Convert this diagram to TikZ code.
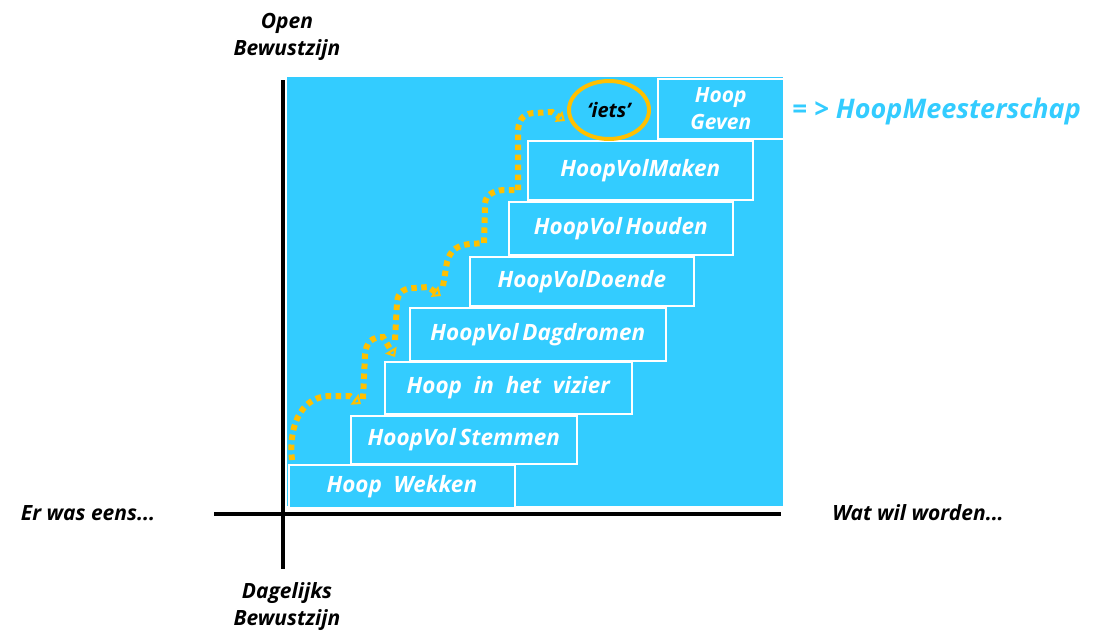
\documentclass[tikz,border=0pt]{standalone}
\usepackage{fontspec}
\setmainfont{Open Sans}
\usetikzlibrary{arrows.meta,shapes.geometric}
\definecolor{skyb}{HTML}{33CCFF}
\definecolor{gold}{HTML}{FFC000}
\tikzset{
  stepbox/.style={draw=white, line width=1.6pt, fill=skyb, text=white, anchor=north west,
    font=\fontsize{22.5}{26}\selectfont\bfseries\itshape, inner sep=0pt},
  axislab/.style={text=black, font=\fontsize{21}{27}\selectfont\bfseries\itshape, align=center, inner sep=0pt},
  axisline/.style={line width=4.5pt, black},
  trail/.style={gold, line width=6pt, dash pattern=on 5.5pt off 4.5pt, -{Triangle[length=8pt,width=13pt,open]}},
  trailplain/.style={gold, line width=6pt, dash pattern=on 5.5pt off 4.5pt},
}
\begin{document}
\begin{tikzpicture}[x=1pt,y=-1pt]
\useasboundingbox (0,0) rectangle (1094,630);
% blue field
\fill[skyb] (287,77) rectangle (783,506);
% axes
\coordinate (vtop) at (283,80);
\coordinate (vbot) at (283,569);
\coordinate (hleft) at (214,514);
\coordinate (hright) at (781,514);
\draw[axisline] (vtop) -- (vbot);
\draw[axisline] (hleft) -- (hright);
% steps
\node[stepbox, minimum width=226, minimum height=43] (s1) at (288,464) {Hoop\ \ Wekken};
\node[stepbox, minimum width=226, minimum height=48] (s2) at (350,415) {HoopVol\,Stemmen};
\node[stepbox, minimum width=247, minimum height=52] (s3) at (384,361) {Hoop\ \ in\ \ het\ \ vizier};
\node[stepbox, minimum width=256, minimum height=53] (s4) at (409,307) {HoopVol\,Dagdromen};
\node[stepbox, minimum width=224, minimum height=49] (s5) at (469,256) {HoopVolDoende};
\node[stepbox, minimum width=224, minimum height=53] (s6) at (508,201) {HoopVol\,Houden};
\node[stepbox, minimum width=225, minimum height=59] (s7) at (527,140) {HoopVolMaken};
\node[stepbox, minimum width=126, minimum height=60, align=center,
  font=\fontsize{21}{27}\selectfont\bfseries\itshape] (s8) at (657,78) {Hoop\\Geven};
% iets
\node[draw=gold, line width=4pt, ellipse, minimum width=80, minimum height=58, inner sep=0pt,
  font=\fontsize{20}{22}\selectfont\bfseries\itshape] (iets) at (609,110) {‘iets’};
% meesterschap
\node[anchor=west, text=skyb, inner sep=0pt, font=\fontsize{27}{30}\selectfont\bfseries\itshape] (meester) at (792,111) {=\ >\ HoopMeesterschap};
% axis labels
\node[axislab] (open) at (287,37) {Open\\Bewustzijn};
\node[axislab] (dag) at (287,607) {Dagelijks\\Bewustzijn};
\node[axislab] (er) at (88,513) {Er was eens...};
\node[axislab] (wat) at (918,513) {Wat wil worden...};
% dotted trail
\draw[trail] (292,460) .. controls (288,420) and (305,396) .. (330,396) -- (350,396) -- (361,404);
\draw[trail] (363,399) -- (365,355) .. controls (366,342) and (372,337) .. (383,337) -- (395,357);
\draw[trail] (395,340) -- (397,302) .. controls (398,292) and (404,288) .. (415,288) -- (428,287) -- (441,296);
\draw[trailplain] (443,286) -- (447,262) .. controls (450,250) and (458,245) .. (470,244) -- (484,243) -- (485,203) .. controls (486,195) and (493,191) .. (503,190) -- (516,190);
\draw[trail] (518,190) -- (518,130) .. controls (519,118) and (525,113) .. (535,113) -- (552,112) -- (565,121);
\end{tikzpicture}
\end{document}
